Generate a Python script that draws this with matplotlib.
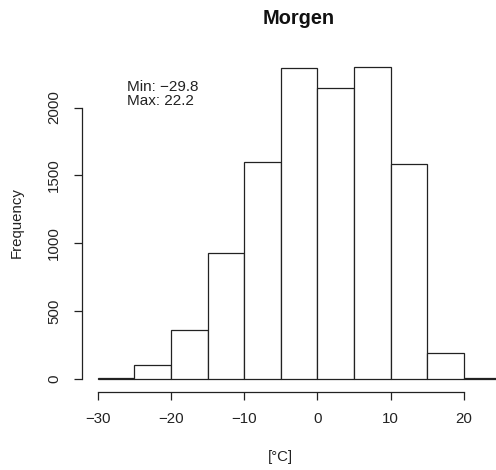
import matplotlib
matplotlib.use("Agg")
import matplotlib.pyplot as plt

# histogram of morning temperatures, 5 degree bins
bin_edges = [-30, -25, -20, -15, -10, -5, 0, 5, 10, 15, 20, 25]
counts = [10, 100, 361, 932, 1595, 2291, 2144, 2295, 1584, 191, 10]
title = "Morgen"
xlabel = "[°C]"
ylabel = "Frequency"
note = "Min: \u221229.8\nMax: 22.2"
xticks = [-30, -20, -10, 0, 10, 20]
yticks = [0, 500, 1000, 1500, 2000]

plt.rcParams['font.family'] = ['Liberation Sans', 'DejaVu Sans']

W, H = 496, 470
fig = plt.figure(figsize=(W / 100, H / 100), dpi=100)
# plot region like R: 4% padding on each side, the right part falls off the image
left_px, right_px, bottom_px, top_px = 81.5, 516.8, 391.5, 55
ax = fig.add_axes([left_px / W, 1 - bottom_px / H,
                   (right_px - left_px) / W, (bottom_px - top_px) / H])

widths = [b - a for a, b in zip(bin_edges[:-1], bin_edges[1:])]
ax.bar(bin_edges[:-1], counts, width=widths, align="edge",
       facecolor="white", edgecolor="#222222", linewidth=0.9)

span = bin_edges[-1] - bin_edges[0]
ax.set_xlim(bin_edges[0] - 0.04 * span, bin_edges[-1] + 0.04 * span)
ax.set_ylim(-0.04 * max(counts), 1.04 * max(counts))

for s in ["top", "right"]:
    ax.spines[s].set_visible(False)
ax.spines["left"].set_bounds(yticks[0], yticks[-1])
ax.spines["bottom"].set_bounds(xticks[0], xticks[-1])
for s in ["left", "bottom"]:
    ax.spines[s].set_linewidth(0.9)
    ax.spines[s].set_color("#222222")

ax.set_xticks(xticks)
ax.set_xticklabels([str(t).replace("-", "\u2212") for t in xticks])
ax.set_yticks(yticks)
ax.set_yticklabels([str(t) for t in yticks], rotation=90, va="center")
ax.tick_params(direction="out", length=5.8, width=0.9, color="#222222",
               labelsize=10.8, labelcolor="#222222", pad=9)

ax.text(-26, 2100, note, fontsize=11, color="#222222", ha="left", va="center",
        linespacing=1.05)

fig.text(299 / W, 1 - 18 / H, title, fontsize=14.4, fontweight="bold",
         ha="center", va="center", color="#111111")
fig.text(280 / W, 1 - 457 / H, xlabel, fontsize=10.8, ha="center", va="center",
         color="#222222")
fig.text(17 / W, 1 - 223 / H, ylabel, fontsize=10.8, rotation=90,
         ha="center", va="center", color="#222222")

fig.savefig("out.png", dpi=100)
